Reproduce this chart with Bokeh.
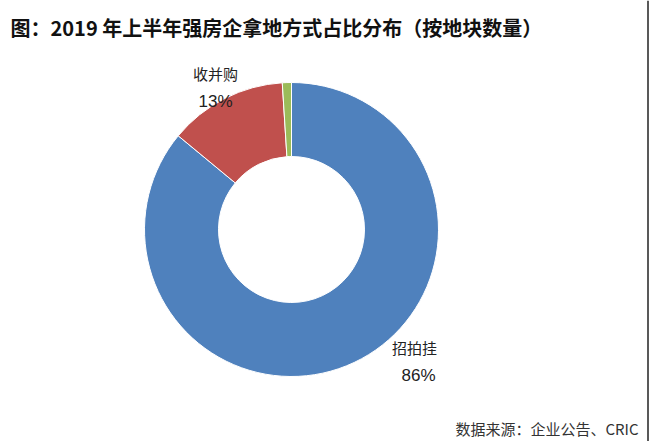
import math
from bokeh.plotting import figure
from bokeh.models import ColumnDataSource, Range1d
from bokeh.core.properties import value
from bokeh.embed import file_html
from bokeh.resources import INLINE

# Data
categories = ["招拍挂", "收并购", "其他"]
shares = [86, 13, 1]
colors = ["#4F81BD", "#C0504D", "#9BBB59"]
title_text = "图：2019 年上半年强房企拿地方式占比分布（按地块数量）"
source_text = "数据来源：企业公告、CRIC"

W, H = 650, 441
p = figure(width=W, height=H, output_backend="svg", toolbar_location=None,
           x_axis_type=None, y_axis_type=None, min_border=0,
           x_range=Range1d(0, W), y_range=Range1d(0, H))
p.grid.visible = False
p.outline_line_color = None
p.background_fill_color = "white"
p.border_fill_color = "white"

cx, cy = 291, 212
r_out, r_in = 147, 73

total = sum(shares)
starts, ends = [], []
a = math.pi / 2
for s in shares:
    starts.append(a)
    a = a - s / total * 2 * math.pi
    ends.append(a)

src = ColumnDataSource(dict(cat=categories, share=shares, color=colors,
                            start=starts, end=ends))
p.annular_wedge(x=cx, y=cy, inner_radius=r_in, outer_radius=r_out,
                start_angle="start", end_angle="end", direction="clock",
                fill_color="color", line_color="white", line_width=1,
                source=src)

font = value("Noto Sans CJK SC")
# title
p.text(x=[10], y=[414], text=[title_text], text_font=font,
       text_font_size="20px", text_font_style="bold", text_color="#111111",
       text_baseline="middle", text_align="left")

# labels
label_pos = {"招拍挂": ((414, 94), (418, 66)), "收并购": ((215, 368), (215, 340))}
for c, s in zip(categories, shares):
    if c not in label_pos:
        continue
    (nx, ny), (vx, vy) = label_pos[c]
    p.text(x=[nx], y=[ny], text=[c], text_font=font, text_font_size="15px",
           text_color="#222222", text_align="center", text_baseline="middle")
    p.text(x=[vx], y=[vy], text=[f"{s}%"], text_font=value("Liberation Sans"),
           text_font_size="17px", text_color="#222222", text_align="center",
           text_baseline="middle")

p.text(x=[638], y=[13], text=[source_text], text_font=font,
       text_font_size="15px", text_color="#333333", text_align="right",
       text_baseline="middle")

# right frame edge
p.segment(x0=[647.5], y0=[0], x1=[647.5], y1=[H], line_color="#222222",
          line_width=1.5)

open("out.html", "w").write(file_html(p, INLINE))
